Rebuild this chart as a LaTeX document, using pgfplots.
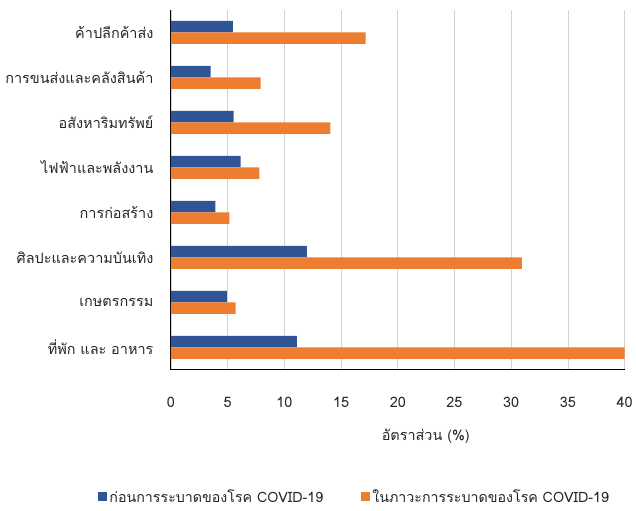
\documentclass[border=0pt]{standalone}
\usepackage{fontspec}
\setmainfont{Loma}[Script=Thai]
\usepackage{pgfplots}
\pgfplotsset{compat=1.18}
\definecolor{cblue}{HTML}{2F5597}
\definecolor{corange}{HTML}{ED7D31}
\begin{document}
\begin{tikzpicture}
\begin{axis}[
  name=ax,
  scale only axis,
  width=454bp, height=360bp,
  xmin=0, xmax=40,
  ymin=-0.5, ymax=7.5,
  y dir=reverse,
  xbar,
  bar width=11.5bp,
  xtick={0,5,...,40},
  ytick={0,...,7},
  yticklabels={ค้าปลีกค้าส่ง,การขนส่งและคลังสินค้า,อสังหาริมทรัพย์,ไฟฟ้าและพลังงาน,การก่อสร้าง,ศิลปะและความบันเทิง,เกษตรกรรม,ที่พัก และ อาหาร},
  major tick length=0pt,
  /pgf/number format/assume math mode=true,
  xmajorgrids,
  grid style={draw=gray!35, line width=0.8pt},
  axis x line*=bottom,
  axis y line*=left,
  x axis line style={line width=1.4pt, -},
  y axis line style={line width=1pt, -},
  tick label style={font=\fontsize{14.5}{16}\selectfont, text=black!85},
  xticklabel style={yshift=-24bp},
  yticklabel style={xshift=-14bp},
  xlabel={อัตราส่วน (\%)},
  xlabel style={font=\fontsize{14.5}{16}\selectfont, text=black!85, at={(0.5617,0)}, anchor=north, yshift=-56bp},
  legend style={at={(0.405,-0.353)}, anchor=center, draw=none, font=\fontsize{14.3}{16}\selectfont, text=black!85, legend columns=2, /tikz/every even column/.append style={column sep=36bp}},
  legend image code/.code={\fill[#1] (0cm,-0.15cm) rectangle (0.32cm,0.17cm);},
]
\addplot[fill=cblue, draw=none, bar shift=5.75bp] coordinates {(5.47,0) (3.50,1) (5.53,2) (6.15,3) (3.91,4) (11.99,5) (4.94,6) (11.11,7)};
\addplot[fill=corange, draw=none, bar shift=-5.75bp] coordinates {(17.17,0) (7.91,1) (14.06,2) (7.79,3) (5.15,4) (30.95,5) (5.71,6) (40.0,7)};
\legend{ก่อนการระบาดของโรค COVID-19, ในภาวะการระบาดของโรค COVID-19}
\end{axis}
\path (ax.south west) ++(-171bp,-141bp) coordinate (bl);
\path (ax.north east) ++(11bp,10bp) coordinate (tr);
\path (bl) rectangle (tr);
\end{tikzpicture}
\end{document}
